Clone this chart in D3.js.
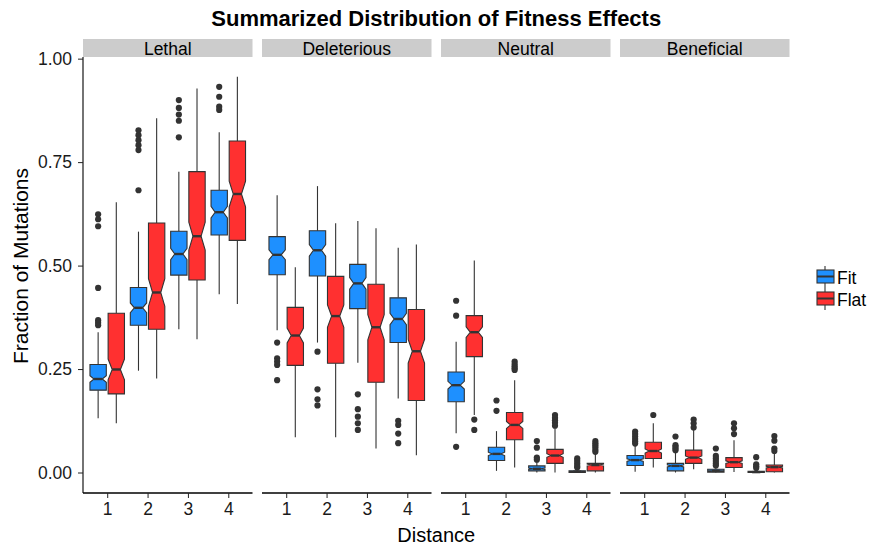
<!DOCTYPE html>
<html>
<head>
<meta charset="utf-8">
<script src="https://cdn.jsdelivr.net/npm/d3@7/dist/d3.min.js"></script>
<style>
  body { margin: 0; background: #fff; }
  text { font-family: "Liberation Sans", Arial, Helvetica, sans-serif; }
</style>
</head>
<body>
<div id="chart"></div>
<script>
// ---------------- data ----------------
const panels = ["Lethal", "Deleterious", "Neutral", "Beneficial"];
const distances = [1, 2, 3, 4];
const groups = ["Fit", "Flat"];
const yTicks = [0, 0.25, 0.5, 0.75, 1];
const nPerBox = 150; // sample size used for the notch

// each row: [whisker low, q1, median, q3, whisker high], one row per distance
const lethalFit  = [[0.131,0.199,0.226,0.261,0.339],[0.246,0.356,0.398,0.447,0.582],[0.346,0.477,0.528,0.583,0.727],[0.431,0.574,0.629,0.682,0.822]];
const lethalFlat = [[0.119,0.190,0.249,0.385,0.653],[0.227,0.346,0.435,0.603,0.856],[0.322,0.465,0.571,0.727,0.928],[0.407,0.561,0.673,0.801,0.956]];
const delFit     = [[0.344,0.478,0.526,0.570,0.670],[0.314,0.475,0.537,0.584,0.692],[0.265,0.396,0.457,0.503,0.608],[0.179,0.314,0.371,0.422,0.543]];
const delFlat    = [[0.085,0.259,0.331,0.399,0.496],[0.085,0.264,0.378,0.474,0.602],[0.058,0.218,0.351,0.455,0.590],[0.042,0.174,0.293,0.394,0.551]];
const neuFit     = [[0.095,0.171,0.211,0.243,0.316],[0.004,0.029,0.045,0.061,0.100],[0.000,0.004,0.009,0.016,0.026],[0.000,0.000,0.002,0.004,0.008]];
const neuFlat    = [[0.139,0.280,0.339,0.379,0.512],[0.012,0.079,0.115,0.145,0.223],[0.000,0.022,0.041,0.056,0.107],[0.000,0.004,0.018,0.022,0.046]];
const benFit     = [[0.002,0.017,0.030,0.041,0.066],[0.000,0.004,0.016,0.022,0.050],[0.000,0.001,0.004,0.008,0.014],[0.000,0.000,0.001,0.003,0.007]];
const benFlat    = [[0.012,0.034,0.052,0.073,0.119],[0.008,0.022,0.036,0.054,0.103],[0.001,0.012,0.025,0.036,0.078],[0.000,0.002,0.013,0.018,0.045]];

// outliers, one list per distance
const lethalFitOut  = [[0.624,0.612,0.595,0.446,0.368,0.362,0.356],[0.827,0.815,0.803,0.791,0.779,0.682],[0.900,0.881,0.865,0.850,0.810],[0.932,0.908,0.884,0.876]];
const lethalFlatOut = [[],[],[],[]];
const delFitOut     = [[0.314,0.276,0.268,0.260,0.223],[0.292,0.201,0.177,0.162],[0.189,0.153,0.135,0.119,0.103],[0.125,0.115,0.094,0.071]];
const delFlatOut    = [[],[],[],[]];
const neuFitOut     = [[0.415,0.379,0.062],[0.174,0.149],[0.076,0.060,0.036,0.031],[0.034,0.028,0.022,0.016,0.012]];
const neuFlatOut    = [[0.128,0.103],[0.268,0.262,0.257,0.252,0.248],[0.139,0.132,0.126,0.120,0.113],[0.076,0.071,0.066,0.061,0.055,0.050]];
const benFitOut     = [[0.099,0.093,0.087,0.081,0.075,0.070],[0.087,0.066,0.062,0.058,0.054],[0.058,0.040,0.034,0.028,0.022,0.017],[0.037,0.020,0.015,0.011]];
const benFlatOut    = [[0.139],[0.128,0.119,0.109],[0.119,0.107,0.093],[0.088,0.077,0.058,0.052]];

const stats = [[lethalFit, lethalFlat], [delFit, delFlat], [neuFit, neuFlat], [benFit, benFlat]];
const outs  = [[lethalFitOut, lethalFlatOut], [delFitOut, delFlatOut], [neuFitOut, neuFlatOut], [benFitOut, benFlatOut]];

const colors = { Fit: "#1E90FF", Flat: "#FF3030" };

// ---------------- layout ----------------
const W = 874, H = 545;
const panelTop = 57, panelBottom = 493, stripH = 18;
const panelLeft0 = 83, panelW = 169.5, panelGap = 9.5;
const tickFont = 17.5;

const svg = d3.select("#chart").append("svg")
  .attr("width", W).attr("height", H);

const y = d3.scaleLinear()
  .domain([-0.0495, 1.004])
  .range([panelBottom, panelTop]);

// title
svg.append("text")
  .attr("x", panelLeft0 + (4 * panelW + 3 * panelGap) / 2)
  .attr("y", 26)
  .attr("text-anchor", "middle")
  .attr("font-weight", "bold")
  .attr("font-size", 22)
  .text("Summarized Distribution of Fitness Effects");

// y axis (first panel only)
const yAxis = svg.append("g")
  .attr("transform", "translate(" + panelLeft0 + ",0)")
  .call(d3.axisLeft(y).tickValues(yTicks).tickFormat(d3.format(".2f")).tickSize(5).tickPadding(6));
yAxis.select(".domain").attr("d", "M0," + panelTop + "V" + panelBottom).attr("stroke", "#000").attr("stroke-width", 1.1);
yAxis.selectAll(".tick line").attr("stroke", "#222");
yAxis.selectAll(".tick text").attr("font-size", tickFont).attr("fill", "#1a1a1a")
  .attr("font-family", "Liberation Sans, Arial, sans-serif");

svg.append("text")
  .attr("transform", "translate(28," + ((panelTop - stripH + panelBottom) / 2) + ") rotate(-90)")
  .attr("text-anchor", "middle")
  .attr("font-size", 21)
  .text("Fraction of Mutations");

svg.append("text")
  .attr("x", panelLeft0 + (4 * panelW + 3 * panelGap) / 2)
  .attr("y", 542)
  .attr("text-anchor", "middle")
  .attr("font-size", 20)
  .text("Distance");

// ---------------- panels ----------------
panels.forEach((pname, pi) => {
  const left = panelLeft0 + pi * (panelW + panelGap);
  const x = d3.scalePoint().domain(distances).range([left, left + panelW]).padding(0.6);
  const step = x.step();
  const boxW = 0.405 * step;
  const dodge = d3.scaleBand().domain(groups).range([-0.45 * step, 0.45 * step]);

  const g = svg.append("g");

  // strip
  g.append("rect")
    .attr("x", left).attr("y", panelTop - stripH)
    .attr("width", panelW).attr("height", stripH)
    .attr("fill", "#cccccc");
  g.append("text")
    .attr("x", left + panelW / 2).attr("y", panelTop - 2)
    .attr("text-anchor", "middle")
    .attr("font-size", 17.5)
    .text(pname);

  // x axis
  const xAxis = g.append("g")
    .attr("transform", "translate(0," + panelBottom + ")")
    .call(d3.axisBottom(x).tickSize(5).tickPadding(5));
  xAxis.select(".domain").attr("d", "M" + left + ",0H" + (left + panelW)).attr("stroke", "#000").attr("stroke-width", 1.6);
  xAxis.selectAll(".tick line").attr("stroke", "#222");
  xAxis.selectAll(".tick text").attr("font-size", tickFont).attr("fill", "#1a1a1a")
    .attr("font-family", "Liberation Sans, Arial, sans-serif");

  groups.forEach((grp, gi) => {
    const rows = stats[pi][gi];
    const pts = outs[pi][gi];
    rows.forEach((s, di) => {
      const cx = x(distances[di]) + dodge(grp) + dodge.bandwidth() / 2;
      const [lo, q1, med, q3, hi] = s;
      const half = 1.58 * (q3 - q1) / Math.sqrt(nPerBox);
      const nU = med + half, nL = med - half;
      const x0 = cx - boxW / 2, x1 = cx + boxW / 2;
      const n0 = cx - boxW / 4, n1 = cx + boxW / 4;

      // whiskers
      g.append("line").attr("x1", cx).attr("x2", cx).attr("y1", y(hi)).attr("y2", y(q3))
        .attr("stroke", "#333").attr("stroke-width", 1.1);
      g.append("line").attr("x1", cx).attr("x2", cx).attr("y1", y(q1)).attr("y2", y(lo))
        .attr("stroke", "#333").attr("stroke-width", 1.1);

      // notched box
      const poly = [
        [x0, y(q3)], [x1, y(q3)], [x1, y(nU)], [n1, y(med)], [x1, y(nL)], [x1, y(q1)],
        [x0, y(q1)], [x0, y(nL)], [n0, y(med)], [x0, y(nU)]
      ];
      g.append("path")
        .attr("d", d3.line()(poly) + "Z")
        .attr("fill", colors[grp])
        .attr("stroke", "#333")
        .attr("stroke-width", 1.1)
        .attr("stroke-linejoin", "miter");
      g.append("line").attr("x1", n0).attr("x2", n1).attr("y1", y(med)).attr("y2", y(med))
        .attr("stroke", "#333").attr("stroke-width", 2.4);

      // outliers
      g.selectAll(null)
        .data(pts[di])
        .enter()
        .append("circle")
          .attr("cx", cx)
          .attr("cy", d => y(d))
          .attr("r", 3.1)
          .attr("fill", "#333");
    });
  });
});

// ---------------- legend ----------------
const legend = svg.append("g").attr("transform", "translate(816,266)");
groups.forEach((grp, i) => {
  const k = legend.append("g").attr("transform", "translate(0," + (i * 22) + ")");
  k.append("line").attr("x1", 9).attr("x2", 9).attr("y1", 0).attr("y2", 22)
    .attr("stroke", "#333").attr("stroke-width", 1.1);
  k.append("rect").attr("x", 1).attr("y", 4).attr("width", 17).attr("height", 13)
    .attr("fill", colors[grp]).attr("stroke", "#333").attr("stroke-width", 1.1);
  k.append("line").attr("x1", 1).attr("x2", 18).attr("y1", 10.5).attr("y2", 10.5)
    .attr("stroke", "#333").attr("stroke-width", 2);
  k.append("text").attr("x", 21).attr("y", 18)
    .attr("font-size", 17.5)
    .text(grp);
});
</script>
</body>
</html>
